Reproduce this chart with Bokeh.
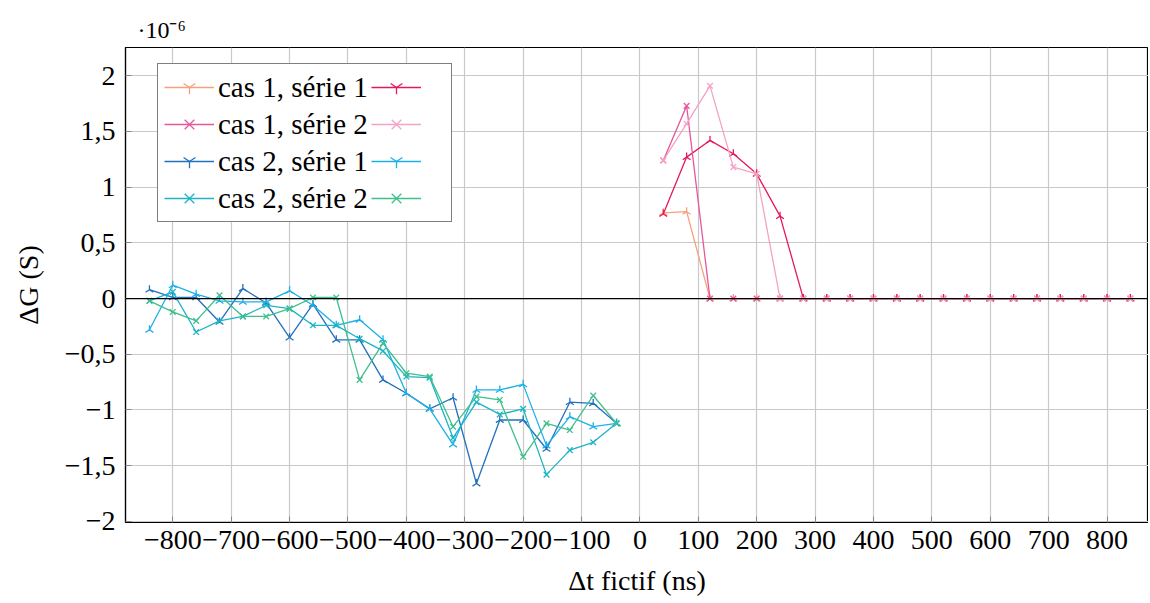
import numpy as np
from bokeh.plotting import figure
from bokeh.models import (Legend, LegendItem, Span, Title, FixedTicker,
                          CustomJSTickFormatter)
from bokeh.embed import file_html
from bokeh.resources import INLINE

# ---------------- data (values in units of 1e-6 S) ----------------
t_pos = [40, 80, 120, 160, 200, 240, 280, 320, 360, 400, 440,
         480, 520, 560, 600, 640, 680, 720, 760, 800, 840]
t_neg = [-840, -800, -760, -720, -680, -640, -600, -560, -520, -480, -440,
         -400, -360, -320, -280, -240, -200, -160, -120, -80, -40]

cas1_serie1_a = [0.77, 0.78, 0.0, 0.0, 0.0, 0.0, 0.0, 0.0, 0.0, 0.0, 0.0,
                 0.0, 0.0, 0.0, 0.0, 0.0, 0.0, 0.0, 0.0, 0.0, 0.0]
cas1_serie1_b = [0.76, 1.27, 1.42, 1.30, 1.12, 0.74, 0.0, 0.0, 0.0, 0.0, 0.0,
                 0.0, 0.0, 0.0, 0.0, 0.0, 0.0, 0.0, 0.0, 0.0, 0.0]
cas1_serie2_a = [1.24, 1.73, 0.0, 0.0, 0.0, 0.0, 0.0, 0.0, 0.0, 0.0, 0.0,
                 0.0, 0.0, 0.0, 0.0, 0.0, 0.0, 0.0, 0.0, 0.0, 0.0]
cas1_serie2_b = [1.24, 1.57, 1.91, 1.18, 1.12, 0.0, 0.0, 0.0, 0.0, 0.0, 0.0,
                 0.0, 0.0, 0.0, 0.0, 0.0, 0.0, 0.0, 0.0, 0.0, 0.0]

cas2_serie1_a = [0.08, 0.01, 0.01, -0.21, 0.09, -0.04, -0.35, -0.05, -0.37, -0.37, -0.73,
                 -0.85, -0.99, -0.89, -1.66, -1.09, -1.09, -1.35, -0.93, -0.94, -1.12]
cas2_serie1_b = [-0.28, 0.12, 0.04, -0.02, -0.03, -0.03, 0.07, -0.06, -0.24, -0.19, -0.37,
                 -0.85, -0.99, -1.31, -0.82, -0.82, -0.77, -1.32, -1.06, -1.15, -1.12]
cas2_serie2_a = [-0.02, 0.06, -0.30, -0.20, -0.16, -0.06, -0.09, -0.24, -0.24, -0.36, -0.47,
                 -0.70, -0.71, -1.25, -0.93, -1.04, -0.99, -1.58, -1.36, -1.29, -1.12]
cas2_serie2_b = [-0.02, -0.12, -0.20, 0.03, -0.16, -0.16, -0.09, 0.01, 0.01, -0.73, -0.40,
                 -0.67, -0.70, -1.15, -0.88, -0.91, -1.42, -1.12, -1.18, -0.87, -1.12]

x_ticks = [-800, -700, -600, -500, -400, -300, -200, -100, 0,
           100, 200, 300, 400, 500, 600, 700, 800]
y_ticks = [-2, -1.5, -1, -0.5, 0, 0.5, 1, 1.5, 2]

labels = ["cas 1, série 1", "", "cas 1, série 2", "",
          "cas 2, série 1", "", "cas 2, série 2", ""]

# ---------------- styling ----------------
FONT = "serif"
series = [
    (t_pos, cas1_serie1_a, "#f6a07c", "tri"),
    (t_pos, cas1_serie1_b, "#e5185b", "tri"),
    (t_pos, cas1_serie2_a, "#e8569c", "x"),
    (t_pos, cas1_serie2_b, "#f3a3c6", "x"),
    (t_neg, cas2_serie1_a, "#2370bd", "tri"),
    (t_neg, cas2_serie1_b, "#1db0e8", "tri"),
    (t_neg, cas2_serie2_a, "#1cb4c6", "x"),
    (t_neg, cas2_serie2_b, "#3fbf8c", "x"),
]

p = figure(width=1148, height=600, x_range=(-881, 871), y_range=(-2.01, 2.254),
           output_backend="svg", toolbar_location=None,
           min_border_left=125, min_border_right=0, min_border_top=47,
           min_border_bottom=78)

p.outline_line_color = "black"
p.outline_line_width = 1.2
p.background_fill_color = "white"
p.border_fill_color = "white"

for g in (p.xgrid[0], p.ygrid[0]):
    g.grid_line_color = "#c9c9c9"
    g.grid_line_width = 1.2
p.xgrid[0].ticker = FixedTicker(ticks=x_ticks)
p.ygrid[0].ticker = FixedTicker(ticks=y_ticks)

minus_fmt = CustomJSTickFormatter(code="""
    let s = Math.abs(tick).toString().replace('.', ',');
    return (tick < 0 ? '\u2212' : '') + s;
""")

xa = p.xaxis[0]
xa.ticker = FixedTicker(ticks=x_ticks)
xa.formatter = minus_fmt
ya = p.yaxis[0]
ya.ticker = FixedTicker(ticks=y_ticks)
ya.formatter = minus_fmt
for ax in (xa, ya):
    ax.axis_line_color = "black"
    ax.axis_line_width = 1.2
    ax.major_tick_in = 6
    ax.major_tick_out = 0
    ax.major_tick_line_color = "#888888"
    ax.minor_tick_line_color = None
    ax.major_label_text_font = FONT
    ax.major_label_text_font_size = "28px"
    ax.major_label_text_color = "black"
    ax.axis_label_text_font = FONT
    ax.axis_label_text_font_size = "28px"
    ax.axis_label_text_font_style = "normal"
    ax.axis_label_text_color = "black"
xa.major_label_standoff = 8
xa.axis_label_standoff = 13
ya.major_label_standoff = 10
ya.axis_label_standoff = 18
xa.axis_label = "Δt fictif (ns)"
ya.axis_label = "ΔG (S)"

p.add_layout(Span(location=0, dimension="width", line_color="black",
                  line_width=1.2))

items = []
for (xs, ys, col, mk), lab in zip(series, labels):
    r_line = p.line(xs, ys, line_color=col, line_width=1.3)
    if mk == "tri":
        r_mk = p.scatter(xs, ys, marker="y", angle=np.pi, size=9,
                         line_color=col, line_width=1.3)
    else:
        r_mk = p.scatter(xs, ys, marker="x", size=8,
                         line_color=col, line_width=1.3)
    items.append(LegendItem(label=lab, renderers=[r_line, r_mk]))

# order so that the two-column layout reads row by row
ordered = [items[0], items[2], items[4], items[6], items[1], items[3], items[5], items[7]]
legend = Legend(items=ordered, ncols=2, location=(32, 300),
                label_text_font=FONT, label_text_font_size="29px",
                label_text_color="black",
                glyph_width=50, glyph_height=34, spacing=3, padding=6,
                label_standoff=4, margin=0,
                border_line_color="black", border_line_width=1.2,
                background_fill_color="white", background_fill_alpha=1.0)
p.add_layout(legend, "center")

p.add_layout(Title(text="·10⁻⁶", align="left", offset=12, standoff=10,
                   text_font=FONT, text_font_size="24px",
                   text_font_style="normal", text_color="black"), "above")

open("out.html", "w").write(file_html(p, INLINE))
